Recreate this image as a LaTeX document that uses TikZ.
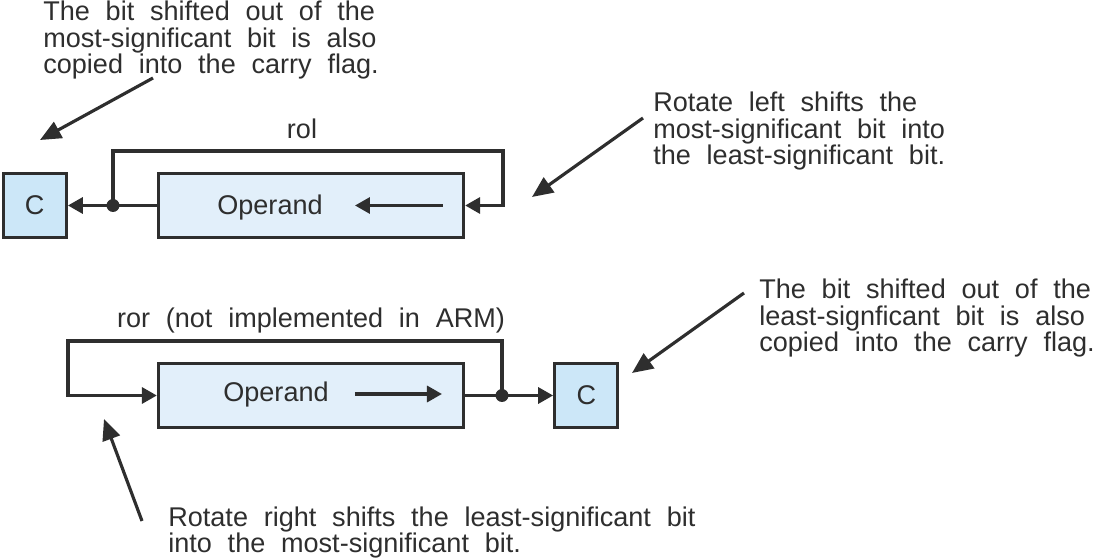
\documentclass[tikz,border=0pt]{standalone}
\usepackage{fontspec}
\setmainfont[WordSpace={2.1}]{Liberation Sans}
\usepackage{xcolor}
\usepackage{tikz}
\usetikzlibrary{positioning, arrows.meta}
\definecolor{lineColor}{HTML}{2E2E2E}
\definecolor{carryColor}{HTML}{CCE7F8}
\definecolor{operandColor}{HTML}{E2EFFA}

\begin{document}
\begin{tikzpicture}[
  x=0.02cm, y=-0.02cm,
  every node/.style={
    font=\fontsize{15.4}{15.1}\selectfont,
    text=lineColor,
    inner sep=0pt
  },
  carrybox/.style={
    rectangle,
    draw=lineColor,
    fill=carryColor,
    line width=1.9pt,
    minimum width=1.26cm,
    minimum height=1.28cm
  },
  operandbox/.style={
    rectangle,
    draw=lineColor,
    fill=operandColor,
    line width=1.9pt,
    minimum width=6.1cm,
    minimum height=1.28cm
  },
  junction/.style={circle, fill=lineColor, minimum size=0.26cm},
  note/.style={align=left, anchor=base west},
  wire/.style={draw=lineColor, line width=1.9pt},
  flow/.style={
    wire,
    -{Triangle[length=0.3cm, width=0.32cm]}
  },
  pointer/.style={
    draw=lineColor,
    line width=1.8pt,
    -{Triangle[length=0.42cm, width=0.36cm]}
  }
]
  \useasboundingbox (0,0) rectangle (1093,560);

  % Define nodes
  \node[operandbox] (op1) at (311,205.5) {};
  \node[carrybox] (c1) [left=1.78cm of op1] {C};
  \node[anchor=base] (op1text) at (270,215) {Operand};
  \node[anchor=base] (rol) at (302,139) {rol};

  \node[operandbox] (op2) at (311,395.5) {};
  \node[carrybox] (c2) [right=1.76cm of op2] {C};
  \node[anchor=base] (op2text) at (276,402) {Operand};
  \node[anchor=base] (ror) at (311,328) {ror (not implemented in ARM)};

  \node[note] (noteMsb) at (43,74) {The bit shifted out of the\\most-significant bit is also\\copied into the carry flag.};
  \node[note] (noteRol) at (653,165) {Rotate left shifts the\\most-significant bit into\\the least-significant bit.};
  \node[note] (noteLsb) at (759,352) {The bit shifted out of the\\least-signficant bit is also\\copied into the carry flag.};
  \node[note] (noteRor) at (168,553) {Rotate right shifts the least-significant bit\\into the most-significant bit.};

  \coordinate (rolCorner) at (503,151);
  \coordinate (rorCorner) at (68,341);
  \coordinate (msbFrom) at (153,78);
  \coordinate (msbTip) at (40,140);
  \coordinate (rolFrom) at (643,118);
  \coordinate (rolTip) at (532,197);
  \coordinate (lsbFrom) at (744,293);
  \coordinate (lsbTip) at (632,373);
  \coordinate (rorFrom) at (142,521);
  \coordinate (rorTip) at (104,419);

  % Connect nodes with arrows
  \draw[flow] (op1.west) -- (c1.east);
  \draw[flow] (113,205.5) |- (rolCorner) |- (op1.east);
  \draw[flow] ([xshift=2.64cm]op1.center) -- ([xshift=0.88cm]op1.center);
  \node[junction] (j1) at (113,205.5) {};

  \draw[flow] (op2.east) -- (c2.west);
  \draw[flow] (502,395.5) |- (rorCorner) |- (op2.west);
  \draw[flow] ([xshift=0.88cm,yshift=0.03cm]op2.center) -- ([xshift=2.62cm,yshift=0.03cm]op2.center);
  \node[junction] (j2) at (502,395.5) {};

  \draw[pointer] (msbFrom) -- (msbTip);
  \draw[pointer] (rolFrom) -- (rolTip);
  \draw[pointer] (lsbFrom) -- (lsbTip);
  \draw[pointer] (rorFrom) -- (rorTip);
\end{tikzpicture}
\end{document}
